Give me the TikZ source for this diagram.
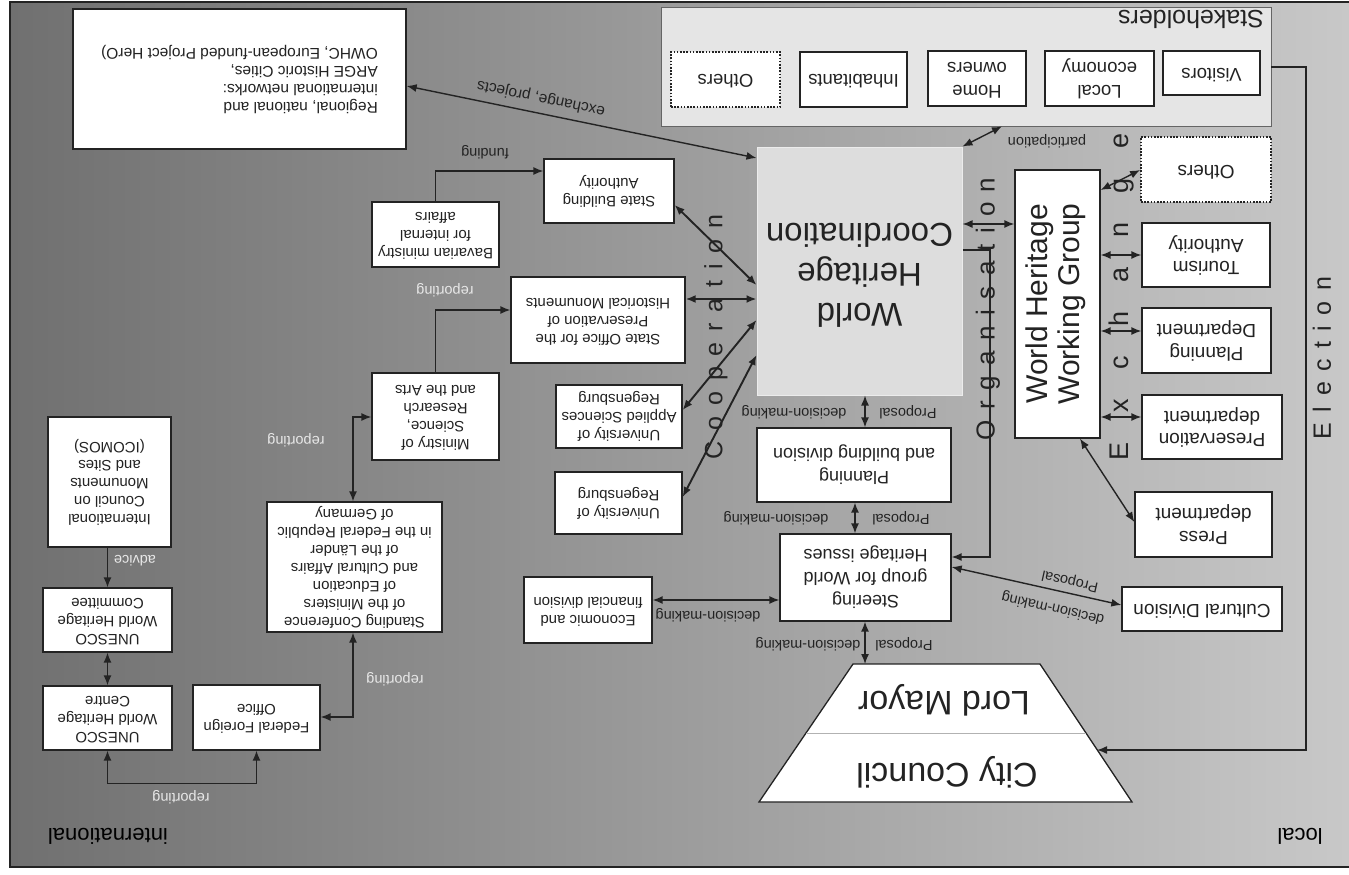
\documentclass[tikz,border=0pt]{standalone}
\usepackage{fontspec}
\setmainfont{Liberation Sans}
\usepackage{graphicx}
\usetikzlibrary{arrows.meta}
\definecolor{bgL}{RGB}{112,112,112}
\definecolor{bgR}{RGB}{200,200,200}
\definecolor{ink}{RGB}{35,35,35}
\definecolor{shfill}{RGB}{229,229,229}
\definecolor{whcfill}{RGB}{221,221,221}
\definecolor{lightlbl}{RGB}{232,232,232}
\newcommand\fs[2]{\fontsize{#1}{#2}\selectfont}
\newcommand\ud[1]{\rotatebox[origin=c]{180}{\begin{tabular}{@{}c@{}}#1\end{tabular}}}
\newcommand\udl[1]{\rotatebox[origin=c]{180}{\begin{tabular}{@{}l@{}}#1\end{tabular}}}
\newcommand\vt[1]{\rotatebox[origin=c]{90}{\begin{tabular}{@{}c@{}}#1\end{tabular}}}
\newcommand\gp[1]{\kern#1pt}
\tikzset{
  box/.style={draw=ink, fill=white, line width=1.3pt, inner sep=0pt, text=ink},
  sz/.style 2 args={minimum width=#1pt, minimum height=#2pt},
  f15/.style={font=\fs{15}{18}},
  f18/.style={font=\fs{18.5}{23}},
  f19/.style={font=\fs{19}{22.5}},
  dotbox/.style={box, dash pattern=on 1.6pt off 1.6pt, line width=1.7pt},
  conn/.style={draw=ink, line width=1.4pt, >={Latex[length=10pt,width=8pt]}},
  coop/.style={conn, line width=1.9pt},
  lbl/.style={inner sep=0pt, text=ink, rotate=180, font=\fs{14.5}{16}},
  wlbl/.style={lbl, text=lightlbl},
  spread/.style={inner sep=0pt, text=ink, rotate=90},
}
\begin{document}
\begin{tikzpicture}[x=1pt,y=-1pt]
\useasboundingbox (0,0) rectangle (1349,875);
\fill[white] (0,0) rectangle (1349,875);
\shade[left color=bgL, right color=bgR] (10,2) rectangle (1349,867);
\draw[ink, line width=1.5pt] (1349,2) -- (10,2) -- (10,867) -- (1349,867);

% zone labels
\node[lbl, font=\fs{22}{26}, text=black] (intl) at (108,836) {international};
\node[lbl, font=\fs{22}{26}, text=black] (loc) at (1300,836) {local};

% stakeholders
\node[draw=ink!70, fill=shfill, line width=0.8pt, sz={610}{119}, inner sep=0pt] (SH) at (966,66.5) {};
\node[lbl, font=\fs{25}{28}] (SHl) at (1191,19) {Stakeholders};
\node[box, f18, sz={97}{44}] (VI) at (1211.5,73) {\ud{Visitors}};
\node[box, f18, sz={109}{55}] (LE) at (1099.5,78.5) {\ud{Local\\economy}};
\node[box, f18, sz={98}{55}] (HO) at (977,78.5) {\ud{Home\\owners}};
\node[box, f18, sz={107}{55}] (IN) at (853.5,79.5) {\ud{Inhabitants}};
\node[dotbox, f18, sz={109}{55}] (OT1) at (725.5,79.5) {\ud{Others}};

% networks
\node[box, font=\fs{15.5}{18}, sz={333}{140}] (RN) at (239.5,79) {\udl{Regional, national and\\international networks:\\ARGE Historic Cities,\\OWHC, European-funded Project HerO)}};

% coordination
\node[draw=white!85!gray, fill=whcfill, line width=1pt, sz={205}{248}, inner sep=0pt, text=ink, font=\fs{33}{40}] (WHC) at (859.5,271) {\ud{World\\Heritage\\Coordination}};
\node[box, sz={85}{268}, font=\fs{30}{32}] (WHWG) at (1057.5,304) {\vt{World Heritage\\Working Group}};

% right column
\node[dotbox, f19, sz={130}{65}] (OT2) at (1206,169.5) {\ud{Others}};
\node[box, f19, sz={128}{64}] (TA) at (1206,255) {\ud{Tourism\\Authority}};
\node[box, f19, sz={129}{65}] (PD) at (1206.5,340.5) {\ud{Planning\\Department}};
\node[box, f19, sz={140}{64}] (PrD) at (1212,427) {\ud{Preservation\\department}};
\node[box, f19, sz={137}{65}] (PrS) at (1203.5,524.5) {\ud{Press\\department}};
\node[box, f19, sz={160}{44}] (CD) at (1202,609) {\ud{Cultural Division}};

% centre column
\node[box, font=\fs{18}{23}, sz={194}{74}] (PB) at (854,465) {\ud{Planning\\and building division}};
\node[box, font=\fs{18}{23}, sz={171}{87}] (SG) at (865.5,577.5) {\ud{Steering\\group for World\\Heritage issues}};

% state level
\node[box, f15, sz={128}{66}] (EF) at (588,610) {\ud{Economic and\\financial division}};
\node[box, f15, sz={127}{62}] (UR) at (618.5,503) {\ud{University of\\Regensburg}};
\node[box, f15, sz={126}{63}] (UA) at (619,416.5) {\ud{University of\\Applied Sciences\\Regensburg}};
\node[box, f15, sz={174}{86}] (SO) at (598,320) {\ud{State Office for the\\Preservation of\\Historical Monuments}};
\node[box, f15, sz={130}{64}] (SBA) at (609,191) {\ud{State Building\\Authority}};
\node[box, f15, sz={127}{65}] (BM) at (435.5,234.5) {\ud{Bavarian ministry\\for internal\\affairs}};
\node[box, f15, sz={127}{87}] (MS) at (435.5,416.5) {\ud{Ministry of\\Science,\\Research\\and the Arts}};
\node[box, f15, sz={175}{130}] (SC) at (354.5,567) {\ud{Standing Conference\\of the Ministers\\of Education\\and Cultural Affairs\\of the Länder\\in the Federal Republic\\of Germany}};
\node[box, f15, sz={127}{65}] (FFO) at (256.5,717.5) {\ud{Federal Foreign\\Office}};
\node[box, f15, sz={129}{64}] (UC) at (107.5,718) {\ud{UNESCO\\World Heritage\\Centre}};
\node[box, f15, sz={129}{64}] (UCom) at (107.5,620) {\ud{UNESCO\\World Heritage\\Committee}};
\node[box, f15, sz={123}{130}] (IC) at (109.5,482) {\ud{International\\Council on\\Monuments\\and Sites\\(ICOMOS)}};

% mayor / council
\draw[draw=ink, fill=white, line width=1.3pt] (853,664) -- (1040,664) -- (1132,802) -- (759,802) -- cycle;
\draw[gray!60, line width=0.8pt] (806,733) -- (1086,733);
\node[lbl, font=\fs{34}{38}] (LM) at (944,700) {Lord Mayor};
\node[lbl, font=\fs{34}{38}] (CC) at (947,772) {City Council};
\coordinate (LMtop) at (865,664);
\coordinate (CCside) at (1097,750);

% connectors
\draw[conn,<->] (RN.east |- 0,86) -- (WHC.west |- 0,158);
\node[lbl, rotate=-11.6, font=\fs{15.5}{17}] (lblEx) at (541,98) {exchange, projects};
\draw[conn,<->] (WHC.north east) -- (SH.south -| 1002,0);
\node[lbl] (lblPart) at (1047,141) {participation};
\draw[conn,<->] (WHC.east |- 0,224) -- (WHWG.west |- 0,224);
\draw[conn,<->] (WHWG.east |- 0,190) -- (OT2.west |- 0,170);
\draw[conn,<->] (WHWG.east |- TA) -- (TA.west);
\draw[conn,<->] (WHWG.east |- 0,331) -- (PD.west |- 0,331);
\draw[conn,<->] (WHWG.east |- 0,417) -- (PrD.west |- 0,417);
\draw[conn,<->] (WHWG.south -| 1080,0) -- (PrS.west |- 0,522);
\draw[conn,->] (WHC.east |- 0,250) -- (990,250) -- (990,557) -- (SG.east |- 0,557);
\draw[conn,->] (SH.east |- 0,67) -- (1306,67) -- (1306,750) -- (CCside);

\draw[coop,<->] (SBA.east |- 0,205) -- (WHC.west |- 0,285);
\draw[coop,<->] (SO.east |- 0,299) -- (WHC.west |- 0,299);
\draw[coop,<->] (UA.east |- 0,410) -- (WHC.west |- 0,320);
\draw[coop,<->] (UR.east |- 0,497) -- (WHC.west |- 0,355);

\draw[conn,->] (BM.north) |- (SBA.west |- 0,171);
\node[lbl] (lblFund) at (485,152) {funding};
\draw[conn,->] (MS.north) |- (SO.west |- 0,310);
\node[wlbl] (lblRep1) at (445,290) {reporting};
\draw[conn,<->] (MS.west |- 0,417) -| (SC.north -| 353,0);
\node[wlbl] (lblRep2) at (296,440) {reporting};
\draw[conn,<->] (SC.south -| 353,0) |- (FFO.east |- 0,717);
\node[wlbl] (lblRep3) at (395,679) {reporting};
\draw[conn,<->] (FFO.south) -- ++(0,33) -| (UC.south);
\node[wlbl] (lblRep4) at (181,797) {reporting};
\draw[conn,<->] (UCom.south) -- (UC.north);
\draw[conn,->] (IC.south -| UCom.north) -- (UCom.north);
\node[wlbl] (lblAdv) at (135,561) {advice};

\draw[conn,<->] (WHC.south -| 865,0) -- (PB.north -| 865,0);
\node[lbl] (lP1) at (908,412) {Proposal};
\node[lbl] (lD1) at (794,412) {decision-making};
\draw[conn,<->] (PB.south -| 855,0) -- (SG.north -| 855,0);
\node[lbl] (lP2) at (901,518) {Proposal};
\node[lbl] (lD2) at (776,518) {decision-making};
\draw[conn,<->] (SG.south -| 865,0) -- (LMtop);
\node[lbl] (lP3) at (904,644) {Proposal};
\node[lbl] (lD3) at (808,644) {decision-making};
\draw[conn,<->] (EF.east |- 0,600) -- (SG.west |- 0,600);
\node[lbl] (lD4) at (708,615) {decision-making};
\draw[conn,<->] (CD.west |- 0,605) -- (SG.east |- 0,567);
\node[lbl, rotate=-12.6] (lP5) at (1070,581) {Proposal};
\node[lbl, rotate=-12.6] (lD5) at (1053,608) {decision-making};

% spread vertical words
\node[spread, font=\fs{25}{25}] (COOP) at (716,337) {C\gp{10.8}o\gp{10.8}o\gp{10.8}p\gp{10.8}e\gp{10.8}r\gp{10.8}a\gp{10.8}t\gp{10.8}i\gp{10.8}o\gp{10.8}n};
\node[spread, font=\fs{26}{26}] (ORG) at (988,309) {O\gp{10.5}r\gp{10.5}g\gp{10.5}a\gp{10.5}n\gp{10.5}i\gp{10.5}s\gp{10.5}a\gp{10.5}t\gp{10.5}i\gp{10.5}o\gp{10.5}n};
\node[spread, font=\fs{27}{27}] (EXC) at (1122,297) {E\gp{29.5}x\gp{29.5}c\gp{29.5}h\gp{29.5}a\gp{29.5}n\gp{29.5}g\gp{29.5}e};
\node[spread, font=\fs{25}{25}] (ELE) at (1322,358) {E\gp{10.5}l\gp{10.5}e\gp{10.5}c\gp{10.5}t\gp{10.5}i\gp{10.5}o\gp{10.5}n};
\end{tikzpicture}
\end{document}
